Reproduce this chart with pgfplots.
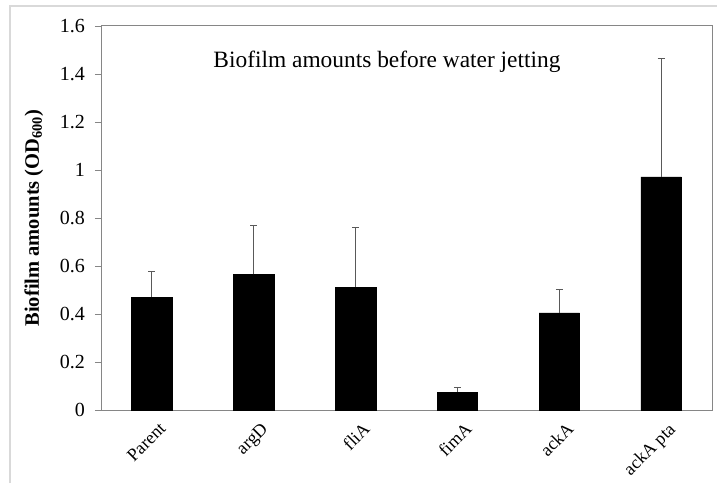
\documentclass[border=0pt]{standalone}
\usepackage{fontspec}
\setmainfont{Liberation Serif}
\usepackage{pgfplots}
\usepackage{pgfplotstable}
\pgfplotsset{compat=1.18}

\definecolor{axisgray}{HTML}{868686}
\definecolor{framegray}{HTML}{D9D9D9}
\definecolor{errgray}{HTML}{595959}

% strain, mean OD600, upper error
\pgfplotstableread{
x y err
0 0.470 0.108
1 0.565 0.202
2 0.512 0.249
3 0.075 0.017
4 0.405 0.096
5 0.971 0.493
}\biofilm

\begin{document}
\begin{tikzpicture}[x=1pt,y=1pt]
  \draw[framegray, line width=1.2pt] (10,0) -- (10,477) -- (717,477);
  \begin{axis}[
      at={(101pt,73pt)}, anchor=south west,
      scale only axis, width=611pt, height=384pt,
      ybar, bar width=40.5pt,
      xmin=-0.5, xmax=5.5, ymin=0, ymax=1.6,
      xtick=data,
      xticklabels={Parent, argD, fliA, fimA, ackA, ackA pta},
      xtick style={draw=none},
      xticklabel style={rotate=45, anchor=north east, font=\fontsize{18}{20}\selectfont,
        yshift=-5pt, xshift=4pt},
      ytick={0,0.2,...,1.6}, ytick pos=left,
      yticklabel style={font=\fontsize{20}{22}\selectfont, xshift=-6.5pt},
      /pgf/number format/assume math mode=true,
      tick align=outside, major tick length=6pt,
      ytick style={axisgray, line width=0.8pt},
      axis line style={axisgray, line width=1pt},
      ylabel={\textbf{Biofilm amounts (OD\textsubscript{600})}},
      ylabel style={font=\fontsize{20.5}{22}\selectfont, at={(axis description cs:-0.11,0.5)}, anchor=center},
      clip=false,
    ]
    \addplot[fill=black, draw=black,
      error bars/.cd, y dir=plus, y explicit,
      error bar style={errgray, line width=1pt},
      error mark options={rotate=90, mark size=3.5pt, errgray, line width=1pt}]
      table[x=x, y=y, y error=err] {\biofilm};
    \node[font=\fontsize{23.4}{26}\selectfont] at (rel axis cs:0.468,0.906)
      {Biofilm amounts before water jetting};
  \end{axis}
  \pgfresetboundingbox
  \useasboundingbox (0,0) rectangle (717,483);
\end{tikzpicture}
\end{document}
